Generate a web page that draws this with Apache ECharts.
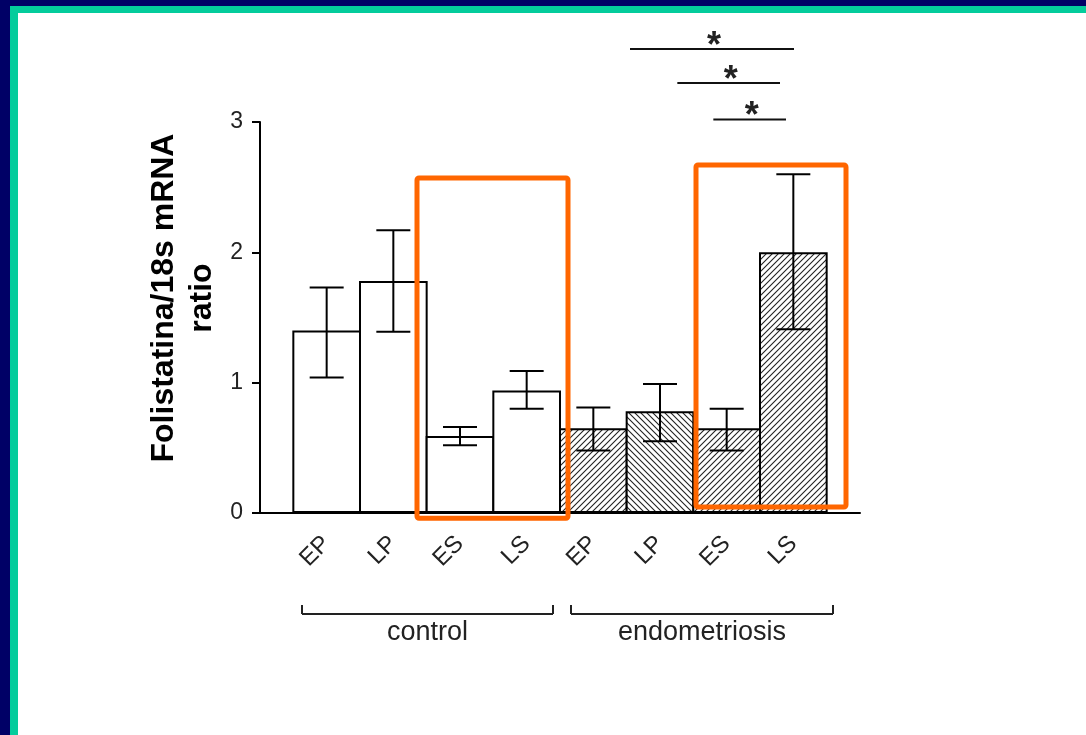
<!DOCTYPE html>
<html>
<head>
<meta charset="utf-8">
<script src="https://cdn.jsdelivr.net/npm/echarts@6/dist/echarts.min.js"></script>
<style>
  html, body { margin: 0; padding: 0; background: #ffffff; width: 1086px; height: 735px; overflow: hidden; }
  .strip { position: absolute; }
  #chart { position: absolute; left: 0; top: 0; width: 1086px; height: 735px; }
</style>
</head>
<body>
<div class="strip" style="left:0;top:0;width:1086px;height:6px;background:#000066;"></div>
<div class="strip" style="left:0;top:0;width:10px;height:735px;background:#000066;"></div>
<div class="strip" style="left:10px;top:6px;width:1076px;height:7px;background:#04CC9C;"></div>
<div class="strip" style="left:10px;top:6px;width:8px;height:729px;background:#04CC9C;"></div>
<div id="chart"></div>
<script>
// ---- data ----
const categories = ['EP', 'LP', 'ES', 'LS', 'EP', 'LP', 'ES', 'LS'];
const groupNames = ['control', 'endometriosis'];
const means   = [1.40, 1.78, 0.59, 0.94, 0.65, 0.78, 0.65, 2.00];
const errLow  = [1.04, 1.39, 0.52, 0.80, 0.48, 0.55, 0.48, 1.41];
const errHigh = [1.73, 2.17, 0.66, 1.09, 0.81, 0.99, 0.80, 2.60];
const yTickValues = [0, 1, 2, 3];
// significance bars: [x start, x end, height]
const sigBars = [[5.55, 8.01, 3.56], [6.26, 7.80, 3.30], [6.80, 7.89, 3.02]];
// highlight boxes: [x start, x end, y bottom, y top]
const boxes = [[2.355, 4.62, -0.04, 2.57], [6.54, 8.79, 0.046, 2.67]];
// group brackets: [x start, x end]
const groupSpans = [[0.63, 4.395], [4.665, 8.595]];

// ---- styles ----
function hatch(dir, step) {
  const c = document.createElement('canvas');
  c.width = step; c.height = step;
  const ctx = c.getContext('2d');
  ctx.fillStyle = '#ffffff';
  ctx.fillRect(0, 0, step, step);
  ctx.strokeStyle = '#222222';
  ctx.lineWidth = 1.1;
  ctx.beginPath();
  if (dir === '/') {
    ctx.moveTo(-1, step + 1); ctx.lineTo(step + 1, -1);
    ctx.moveTo(-1, 1); ctx.lineTo(1, -1);
    ctx.moveTo(step - 1, step + 1); ctx.lineTo(step + 1, step - 1);
  } else {
    ctx.moveTo(-1, -1); ctx.lineTo(step + 1, step + 1);
    ctx.moveTo(step - 1, -1); ctx.lineTo(step + 1, 1);
    ctx.moveTo(-1, step - 1); ctx.lineTo(1, step + 1);
  }
  ctx.stroke();
  return c;
}
const hatchStyles = [hatch('/', 6), hatch('\\', 6), hatch('/', 6), hatch('/', 6)];
const FONT = 'Liberation Sans, Arial, sans-serif';

const chart = echarts.init(document.getElementById('chart'), null, { renderer: 'canvas' });
const gridLeft = 260, gridRight = 226, gridTop = 122, gridBottom = 222;
const barW = (1086 - gridLeft - gridRight) / 9;

const barData = means.map((v, i) => ({
  value: [i + 1, v],
  itemStyle: i < 4 ? { color: '#ffffff' } : { color: { image: hatchStyles[i - 4], repeat: 'repeat' } }
}));
const errData = means.map((v, i) => [i + 1, errLow[i], errHigh[i]]);

const option = {
  backgroundColor: 'transparent',
  animation: false,
  grid: { left: gridLeft, right: gridRight, top: gridTop, bottom: gridBottom, containLabel: false },
  xAxis: {
    type: 'value', min: 0, max: 9, interval: 1,
    axisLine: { show: true, onZero: false, lineStyle: { color: '#000', width: 2 } },
    axisTick: { show: false },
    splitLine: { show: false },
    axisLabel: {
      rotate: 45, margin: 27, fontSize: 24, fontFamily: FONT, color: '#222',
      showMinLabel: true, showMaxLabel: true,
      formatter: v => categories[v - 1] || ''
    }
  },
  yAxis: {
    type: 'value', min: yTickValues[0], max: yTickValues[yTickValues.length - 1], interval: 1,
    axisLine: { show: true, lineStyle: { color: '#000', width: 2 } },
    axisTick: { show: true, inside: false, length: 8, lineStyle: { color: '#000', width: 2 } },
    splitLine: { show: false },
    axisLabel: { margin: 17, fontSize: 23, fontFamily: FONT, color: '#222' }
  },
  graphic: [{
    type: 'text', x: 183, y: 298, rotation: Math.PI / 2,
    style: {
      text: 'Folistatina/18s mRNA\nratio', align: 'center', verticalAlign: 'middle',
      font: 'bold 32px Liberation Sans, Arial, sans-serif', lineHeight: 38, fill: '#000'
    }
  }],
  series: [
    {
      type: 'bar', data: barData, barWidth: barW + 2, z: 2,
      itemStyle: { borderColor: '#000', borderWidth: 2 }
    },
    {
      type: 'custom', data: errData, z: 3, clip: false,
      renderItem(params, api) {
        const x = api.value(0);
        const lo = api.coord([x, api.value(1)]);
        const hi = api.coord([x, api.value(2)]);
        const hw = 17;
        const st = { stroke: '#000', lineWidth: 2 };
        return { type: 'group', children: [
          { type: 'line', shape: { x1: lo[0], y1: lo[1], x2: hi[0], y2: hi[1] }, style: st },
          { type: 'line', shape: { x1: lo[0] - hw, y1: lo[1], x2: lo[0] + hw, y2: lo[1] }, style: st },
          { type: 'line', shape: { x1: hi[0] - hw, y1: hi[1], x2: hi[0] + hw, y2: hi[1] }, style: st }
        ]};
      }
    },
    {
      type: 'custom', data: sigBars, z: 3, clip: false,
      renderItem(params, api) {
        const a = api.coord([api.value(0), api.value(2)]);
        const b = api.coord([api.value(1), api.value(2)]);
        return { type: 'group', children: [
          { type: 'line', shape: { x1: a[0], y1: a[1], x2: b[0], y2: b[1] }, style: { stroke: '#111', lineWidth: 2 } },
          { type: 'text', x: (a[0] + b[0]) / 2 + 2, y: a[1] - 2,
            style: { text: '*', fontSize: 36, fontWeight: 'bold', fontFamily: FONT, align: 'center', verticalAlign: 'middle', fill: '#222' } }
        ]};
      }
    },
    {
      type: 'custom', data: groupSpans, z: 3, clip: false,
      renderItem(params, api) {
        const a = api.coord([api.value(0), 0]);
        const b = api.coord([api.value(1), 0]);
        const y = a[1] + 101;
        const st = { stroke: '#222', lineWidth: 2 };
        return { type: 'group', children: [
          { type: 'line', shape: { x1: a[0], y1: y, x2: b[0], y2: y }, style: st },
          { type: 'line', shape: { x1: a[0], y1: y, x2: a[0], y2: y - 9 }, style: st },
          { type: 'line', shape: { x1: b[0], y1: y, x2: b[0], y2: y - 9 }, style: st },
          { type: 'text', x: (a[0] + b[0]) / 2, y: y + 19,
            style: { text: groupNames[params.dataIndex], fontSize: 27, fontFamily: FONT, align: 'center', verticalAlign: 'middle', fill: '#222' } }
        ]};
      }
    },
    {
      type: 'custom', data: boxes, z: 10, clip: false,
      renderItem(params, api) {
        const p1 = api.coord([api.value(0), api.value(3)]);
        const p2 = api.coord([api.value(1), api.value(2)]);
        return { type: 'rect', shape: { x: p1[0], y: p1[1], width: p2[0] - p1[0], height: p2[1] - p1[1], r: 2 },
          style: { fill: 'none', stroke: '#FF6600', lineWidth: 5 } };
      }
    }
  ]
};
chart.setOption(option);
</script>
</body>
</html>
